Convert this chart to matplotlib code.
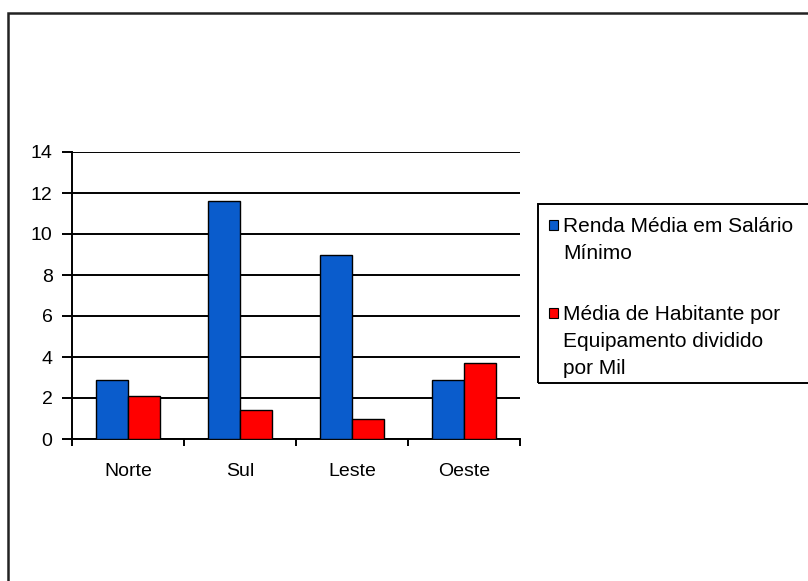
import numpy as np
import matplotlib.pyplot as plt
from matplotlib.patches import Rectangle

regioes = ['Norte', 'Sul', 'Leste', 'Oeste']
renda_media = [2.9, 11.6, 9.0, 2.9]
habitante_equip = [2.1, 1.4, 1.0, 3.7]
legenda = ['Renda Média em Salário\nMínimo',
           'Média de Habitante por\nEquipamento dividido\npor Mil']
cores = ['#0A5CCC', '#FF0000']

plt.rcParams['font.family'] = ['Liberation Sans', 'DejaVu Sans']

W, H = 808, 581
fig = plt.figure(figsize=(W / 100, H / 100), dpi=100)
fig.patch.set_facecolor('white')

# moldura externa do grafico (cortada a direita e embaixo)
fig.patches.append(Rectangle((8 / W, -0.05), 1.1, 1 - 13 / H + 0.05,
                             transform=fig.transFigure, fill=False,
                             edgecolor='#222222', linewidth=1.8))

ax = fig.add_axes([72 / W, 1 - 439 / H, (520 - 72) / W, (439 - 152) / H])
x = np.arange(len(regioes))
w = 0.289
ax.bar(x - w / 2, renda_media, w, color=cores[0], edgecolor='black',
       linewidth=1.0, zorder=3)
ax.bar(x + w / 2, habitante_equip, w, color=cores[1], edgecolor='black',
       linewidth=1.0, zorder=3)

ax.set_xlim(-0.5, 3.5)
ax.set_ylim(0, 14)
ax.set_yticks(range(0, 15, 2))
ax.yaxis.grid(True, color='black', linewidth=1.4, zorder=1)
ax.set_axisbelow(True)
for s in ['top', 'right']:
    ax.spines[s].set_visible(False)
for s in ['left', 'bottom']:
    ax.spines[s].set_linewidth(1.4)

ax.set_xticks(x)
ax.set_xticklabels(regioes)
ax.set_xticks(np.arange(-0.5, 4.0, 1.0), minor=True)
ax.tick_params(axis='x', which='major', length=0, pad=17, labelsize=14)
ax.tick_params(axis='x', which='minor', length=5, width=1.4, direction='out')
ax.tick_params(axis='y', length=7, width=1.4, pad=7, labelsize=14)

# legenda desenhada a mao para alinhar o marcador com a primeira linha
fig.patches.append(Rectangle((538 / W, 1 - 383 / H), 0.5, (383 - 204) / H,
                             transform=fig.transFigure, fill=False,
                             edgecolor='black', linewidth=1.4))
linhas_y = [225, 313]
for cor, texto, yl in zip(cores, legenda, linhas_y):
    fig.patches.append(Rectangle((549 / W, 1 - (yl + 5) / H), 9 / W, 10 / H,
                                 transform=fig.transFigure, facecolor=cor,
                                 edgecolor='black', linewidth=0.8))
    fig.text(563 / W, 1 - (yl - 8) / H, texto, fontsize=15, va='top',
             ha='left', linespacing=1.52)

fig.savefig('out.png', dpi=100)
